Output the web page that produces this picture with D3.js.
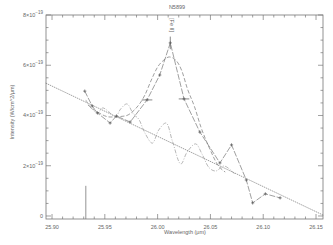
<!DOCTYPE html>
<html>
<head>
<meta charset="utf-8">
<script src="https://cdn.jsdelivr.net/npm/d3@7"></script>
<style>
  body { margin: 0; background: #fff; }
  text { font-family: "Liberation Sans", Arial, sans-serif; fill: #666; }
</style>
</head>
<body>
<div id="chart"></div>
<script>
// wavelength (um) and intensity (1e-19 W/cm^2/um)
const fluxX = [25.931, 25.938, 25.943, 25.955, 25.961, 25.974, 25.990, 26.002, 26.012, 26.025, 26.040, 26.059, 26.070, 26.084, 26.090, 26.102, 26.116];
const fluxY = [4.97, 4.38, 4.10, 3.70, 3.98, 3.74, 4.62, 5.61, 6.89, 4.66, 3.34, 2.11, 2.83, 1.43, 0.52, 0.88, 0.72];

const fitX = [25.934, 25.943, 25.955, 25.969, 25.978, 25.988, 25.994, 26.000, 26.006, 26.011, 26.017, 26.023, 26.028, 26.035, 26.041, 26.049, 26.057, 26.064];
const fitY = [4.42, 4.14, 3.94, 3.98, 4.22, 4.82, 5.41, 5.93, 6.21, 6.33, 6.21, 5.77, 5.09, 4.34, 3.54, 2.71, 2.03, 1.75];

const fringeX = [25.932, 25.937, 25.943, 25.948, 25.954, 25.960, 25.965, 25.971, 25.977, 25.982, 25.988, 25.995, 26.001, 26.008, 26.014, 26.022, 26.028, 26.036, 26.042, 26.049, 26.055, 26.063, 26.073];
const fringeY = [4.62, 4.30, 4.10, 4.30, 4.14, 3.94, 4.26, 4.46, 4.06, 3.86, 3.30, 2.90, 3.42, 3.70, 2.98, 2.07, 2.55, 2.87, 2.47, 1.91, 1.79, 1.99, 1.67];

const contX = [25.894, 26.157];
const contY = [5.29, 0.03];

const lineMarkX = 25.932;
const lineMarkY = [0, 1.2];

const xErrPoints = [6, 9];     // indices of flux points with wavelength bars
const xErr = 0.005;
const peakIdx = 8, peakErr = 0.25;

const xTicks = [25.90, 25.95, 26.00, 26.05, 26.10, 26.15];
const yTicks = [0, 2, 4, 6, 8];
const yTickLabels = ["0", "2", "4", "6", "8"];

const W = 333, H = 245;
const margin = { top: 15, right: 10, bottom: 26, left: 46 };
const width = 323 - margin.left, height = 219 - margin.top;

const svg = d3.select("#chart").append("svg")
    .attr("width", W).attr("height", H);
const g = svg.append("g")
    .attr("transform", `translate(${margin.left},${margin.top})`);

const x = d3.scaleLinear().domain([25.8943, 26.1566]).range([0, width]);
const y = d3.scaleLinear().domain([-0.12, 8]).range([height, 0]);

const ink = "#777";
const lw = 0.7;

// box
g.append("rect").attr("width", width).attr("height", height)
    .attr("fill", "none").attr("stroke", ink).attr("stroke-width", 0.8);

// ticks on all four sides, pointing inward
const xMinor = d3.range(25.90, 26.151, 0.01);
const tickG = g.append("g").attr("stroke", ink).attr("stroke-width", lw);
xMinor.forEach(v => {
    const major = xTicks.some(t => Math.abs(t - v) < 1e-6);
    const len = major ? 5 : 2.5;
    tickG.append("line").attr("x1", x(v)).attr("x2", x(v)).attr("y1", height).attr("y2", height - len);
    tickG.append("line").attr("x1", x(v)).attr("x2", x(v)).attr("y1", 0).attr("y2", len);
});
const yMinor = d3.range(0, 8.01, 0.5);
yMinor.forEach(v => {
    const major = yTicks.includes(v);
    const len = major ? 5 : 2.5;
    tickG.append("line").attr("x1", 0).attr("x2", len).attr("y1", y(v)).attr("y2", y(v));
    tickG.append("line").attr("x1", width).attr("x2", width - len).attr("y1", y(v)).attr("y2", y(v));
});

g.selectAll(".xl").data(xTicks).enter().append("text")
    .attr("x", d => x(d)).attr("y", height + 10)
    .attr("text-anchor", "middle").attr("font-size", 5.5)
    .text(d => d.toFixed(2));

yTicks.forEach((v, i) => {
    const t = g.append("text").attr("x", -3).attr("y", y(v) + 2)
        .attr("text-anchor", "end").attr("font-size", 5.5);
    if (v === 0) { t.text("0"); return; }
    t.append("tspan").text(yTickLabels[i] + "\u00d710");
    t.append("tspan").attr("font-size", 4.5).attr("dy", -3).text("\u221219");
});

// axis titles
svg.append("text").attr("x", 185).attr("y", 234).attr("text-anchor", "middle")
    .attr("font-size", 5.5).text("Wavelength (\u03bcm)");
svg.append("text").attr("transform", "translate(14,112) rotate(-90)")
    .attr("text-anchor", "middle").attr("font-size", 5.5)
    .text("Intensity (W/cm^2/\u03bcm)");
svg.append("text").attr("x", 177).attr("y", 9).attr("text-anchor", "middle")
    .attr("font-size", 5.5).text("N5899");
g.append("text").attr("transform", `translate(${x(26.0095) + 2},${3}) rotate(90)`)
    .attr("text-anchor", "start").attr("font-size", 5.5).text("[Fe II]");

const line = d3.line().x(d => x(d[0])).y(d => y(d[1]));
const smooth = d3.line().curve(d3.curveMonotoneX).x(d => x(d[0])).y(d => y(d[1]));
const pts = (xs, ys) => xs.map((v, i) => [v, ys[i]]);

// continuum
g.append("path").datum(pts(contX, contY)).attr("d", line)
    .attr("fill", "none").attr("stroke", ink).attr("stroke-width", lw)
    .attr("stroke-dasharray", "1.5,0.8");

// fringe residual
g.append("path").datum(pts(fringeX, fringeY)).attr("d", d3.line().curve(d3.curveCatmullRom).x(d => x(d[0])).y(d => y(d[1])))
    .attr("fill", "none").attr("stroke", "#999").attr("stroke-width", lw)
    .attr("stroke-dasharray", "4,1.5,1,1.5");

// fit
g.append("path").datum(pts(fitX, fitY)).attr("d", smooth)
    .attr("fill", "none").attr("stroke", ink).attr("stroke-width", lw)
    .attr("stroke-dasharray", "4,2");

// data
const flux = pts(fluxX, fluxY);
g.append("path").datum(flux).attr("d", line)
    .attr("fill", "none").attr("stroke", ink).attr("stroke-width", lw)
    .attr("stroke-dasharray", "6,1.5");
const mk = g.append("g").attr("stroke", "#555").attr("stroke-width", lw);
flux.forEach(d => {
    const cx = x(d[0]), cy = y(d[1]);
    mk.append("line").attr("x1", cx - 1.6).attr("x2", cx + 1.6).attr("y1", cy).attr("y2", cy);
    mk.append("line").attr("x1", cx).attr("x2", cx).attr("y1", cy - 1.6).attr("y2", cy + 1.6);
});
xErrPoints.forEach(i => {
    mk.append("line").attr("x1", x(fluxX[i] - xErr)).attr("x2", x(fluxX[i] + xErr))
        .attr("y1", y(fluxY[i])).attr("y2", y(fluxY[i]));
});
mk.append("line").attr("x1", x(fluxX[peakIdx])).attr("x2", x(fluxX[peakIdx]))
    .attr("y1", y(fluxY[peakIdx] + peakErr)).attr("y2", y(fluxY[peakIdx] - peakErr));

// line position marker
g.append("line").attr("x1", x(lineMarkX)).attr("x2", x(lineMarkX))
    .attr("y1", y(lineMarkY[0]) + 3).attr("y2", y(lineMarkY[1]))
    .attr("stroke", ink).attr("stroke-width", 0.8);
</script>
</body>
</html>
